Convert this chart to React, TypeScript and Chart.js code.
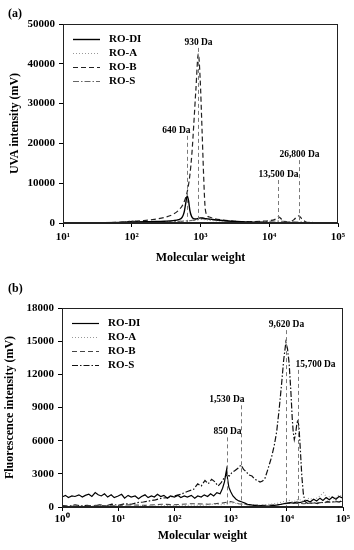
import React, { useEffect, useRef } from 'react';
import { Chart, registerables } from 'chart.js';

Chart.register(...registerables);

const FONT = "'Liberation Serif', 'Times New Roman', serif";

// ---------------- Panel (a): UVA ----------------
const uvaXTicks = [10, 100, 1000, 10000, 100000];
const uvaXTickLabels = ['10¹', '10²', '10³', '10⁴', '10⁵'];
const uvaYTicks = [0, 10000, 20000, 30000, 40000, 50000];

const uvaDiMw = [10, 20, 40, 70, 100, 150, 200, 300, 400, 480, 540, 580, 610, 640, 670, 700, 740, 790, 860, 930, 1000, 1080, 1200, 1500, 1750, 2500, 4000, 6000, 10000, 20000, 50000, 100000];
const uvaDiVal = [0, 20, 60, 150, 250, 300, 350, 450, 600, 850, 1400, 2800, 5000, 6800, 5600, 3200, 1700, 1100, 1000, 1150, 1300, 1250, 1100, 900, 750, 500, 300, 200, 100, 50, 0, 0];

const uvaAMw = [10, 50, 100, 200, 400, 700, 1000, 1300, 2000, 5000, 10000, 30000, 100000];
const uvaAVal = [0, 60, 250, 300, 400, 600, 900, 700, 450, 200, 150, 100, 0];

const uvaBMw = [10, 20, 40, 70, 100, 150, 200, 300, 400, 480, 560, 640, 700, 750, 800, 860, 930, 990, 1050, 1110, 1160, 1220, 1350, 1600, 2000, 3000, 4500, 6000, 8000, 10000, 12000, 13500, 15000, 17000, 20000, 23000, 26800, 30000, 34000, 40000, 50000, 100000];
const uvaBVal = [0, 30, 80, 200, 400, 600, 850, 1400, 2200, 3200, 4800, 7800, 12000, 17500, 25000, 34000, 42500, 36000, 24000, 12000, 4500, 2200, 1500, 1100, 800, 450, 300, 350, 450, 600, 900, 1600, 1000, 300, 250, 900, 1800, 1000, 250, 50, 0, 0];

const uvaSMw = [10, 60, 85, 100, 120, 160, 300, 600, 900, 1050, 1300, 2000, 4000, 8000, 12000, 20000, 50000, 100000];
const uvaSVal = [0, 100, 350, 550, 350, 300, 350, 500, 800, 1100, 900, 600, 350, 300, 500, 300, 100, 0];

const uvaPeakMw = [640, 930, 13500, 26800];
const uvaPeakText = ['640 Da', '930 Da', '13,500 Da', '26,800 Da'];
const uvaPeakTop = [21900, 44000, 10800, 15800];
const uvaPeakAlign = ['right', 'center', 'center', 'center'];

// ---------------- Panel (b): Fluorescence ----------------
const fluXTicks = [1, 10, 100, 1000, 10000, 100000];
const fluXTickLabels = ['10⁰', '10¹', '10²', '10³', '10⁴', '10⁵'];
const fluYTicks = [0, 3000, 6000, 9000, 12000, 15000, 18000];

const fluDiMw = [1, 1.15, 1.3, 1.5, 1.7, 2, 2.3, 2.6, 3, 3.4,
  3.9, 4.4, 5, 5.7, 6.5, 7.5, 8.5, 10, 11.5, 13,
  15, 17, 20, 23, 26, 30, 34, 39, 44, 50,
  57, 65, 75, 85, 100, 115, 130, 150, 170, 200,
  230, 260, 300, 340, 390, 440, 500, 570, 650, 720,
  780, 820, 850, 880, 930, 1000, 1100, 1250, 1400, 1600,
  1800, 2000, 2300, 2600, 3000, 3500, 4000, 5000, 6000, 7000,
  8000, 9000, 10000, 11500, 13000, 15000, 17000, 20000, 23000, 26000,
  30000, 34000, 39000, 44000, 50000, 57000, 65000, 75000, 85000, 100000];
const fluDiVal = [900, 1050, 850, 1000, 950, 1100, 900, 1050, 1150, 950,
  1300, 1100, 1000, 1200, 900, 1100, 850, 1000, 1150, 800,
  1050, 900, 1000, 750, 950, 1100, 850, 1000, 900, 1150,
  950, 1050, 800, 1000, 900, 1050, 850, 1000, 900, 1050,
  800, 1000, 900, 1100, 950, 1200, 1000, 1300, 1200, 1700,
  2300, 3000, 3400, 2600, 1800, 1400, 1000, 700, 550, 450,
  350, 250, 200, 150, 100, 120, 80, 100, 150, 200,
  250, 300, 350, 400, 350, 450, 400, 500, 600, 450,
  700, 550, 800, 600, 850, 650, 900, 700, 950, 800];

const fluAMw = [1, 2, 3, 5, 8, 12, 20, 30, 50, 80, 130, 200, 300, 500, 700, 1000, 1300, 2000, 3000, 5000, 7000, 9000, 11000, 13000, 16000, 20000, 25000, 30000, 37000, 45000, 52000, 60000, 70000, 85000, 100000];
const fluAVal = [0, 60, 20, 80, 30, 100, 50, 120, 80, 150, 100, 180, 150, 250, 200, 400, 300, 200, 150, 250, 350, 500, 600, 450, 700, 550, 800, 650, 900, 1300, 800, 1000, 700, 1100, 900];

const fluBMw = [1, 2, 4, 8, 15, 30, 60, 100, 200, 400, 700, 1000, 1400, 2000, 4000, 8000, 12000, 20000, 40000, 100000];
const fluBVal = [100, 50, 150, 100, 200, 150, 250, 200, 300, 250, 350, 500, 300, 200, 150, 250, 350, 300, 400, 500];

const fluSMw = [1, 1.3, 1.7, 2.2, 2.8, 3.6, 4.6, 6, 7.7, 10,
  13, 17, 22, 28, 36, 46, 60, 77, 100, 130,
  170, 220, 260, 300, 350, 400, 460, 520, 600, 680,
  760, 850, 950, 1050, 1200, 1350, 1530, 1700, 1900, 2100,
  2400, 2700, 3000, 3340, 3700, 4090, 4600, 5380, 6000, 6600,
  7300, 8100, 8800, 9620, 10300, 11000, 11800, 12500, 13000, 13600,
  14300, 15000, 15700, 16500, 17500, 18500, 19700, 21000, 23000, 26000,
  30000, 35000, 40000, 46000, 53000, 62000, 72000, 85000, 100000];
const fluSVal = [150, 50, 200, 100, 150, 50, 200, 100, 250, 150,
  300, 250, 400, 450, 550, 650, 800, 850, 1000, 1150,
  1400, 1600, 2100, 1900, 2400, 2100, 2500, 2300, 1900, 2200,
  2600, 2900, 2800, 3100, 3300, 3500, 3800, 3400, 3200, 2900,
  2800, 2500, 2400, 2250, 2350, 2600, 3400, 4550, 5600, 6800,
  8800, 11200, 13300, 14900, 14300, 13000, 10500, 8000, 6800, 6100,
  6600, 7400, 7900, 7200, 5000, 2800, 1200, 500, 350, 300,
  400, 300, 450, 350, 500, 400, 550, 450, 600];

const fluPeakMw = [850, 1530, 9620, 15700];
const fluPeakText = ['850 Da', '1,530 Da', '9,620 Da', '15,700 Da'];
const fluPeakTop = [6300, 9200, 16000, 12400];
const fluPeakAlign = ['center', 'right', 'center', 'left'];

const seriesNames = ['RO-DI', 'RO-A', 'RO-B', 'RO-S'];

type LineStyle = { color: string; dash: number[]; width: number };

const pts = (mw: number[], v: number[]) => mw.map((m, i) => ({ x: m, y: v[i] }));

type PanelCfg = {
  id: string;
  label: string;
  xMin: number; xMax: number; yMax: number;
  xTicks: number[]; xTickLabels: string[]; yTicks: number[];
  yTitle: string;
  padTop: number; padRight: number; yAxisW: number; xAxisH: number;
  xTickPad: number; xTitlePad: number; yTitlePad: number;
  series: { mw: number[]; val: number[] }[];
  styles: LineStyle[];
  smooth: boolean;
  peakMw: number[]; peakText: string[]; peakTop: number[]; peakAlign: string[];
};

const uvaCfg: PanelCfg = {
  id: 'a', label: '(a)',
  xMin: 10, xMax: 100000, yMax: 50000,
  xTicks: uvaXTicks, xTickLabels: uvaXTickLabels, yTicks: uvaYTicks,
  yTitle: 'UVA intensity (mV)',
  padTop: 24, padRight: 16, yAxisW: 63, xAxisH: 52,
  xTickPad: 4, xTitlePad: 10, yTitlePad: 8,
  series: [
    { mw: uvaDiMw, val: uvaDiVal },
    { mw: uvaAMw, val: uvaAVal },
    { mw: uvaBMw, val: uvaBVal },
    { mw: uvaSMw, val: uvaSVal },
  ],
  styles: [
    { color: '#000000', dash: [], width: 1.4 },
    { color: '#999999', dash: [1, 2], width: 1.1 },
    { color: '#222222', dash: [5, 3], width: 1.2 },
    { color: '#666666', dash: [6, 2, 1.5, 2], width: 1.2 },
  ],
  smooth: true,
  peakMw: uvaPeakMw, peakText: uvaPeakText, peakTop: uvaPeakTop, peakAlign: uvaPeakAlign,
};

const fluCfg: PanelCfg = {
  id: 'b', label: '(b)',
  xMin: 1, xMax: 100000, yMax: 18000,
  xTicks: fluXTicks, xTickLabels: fluXTickLabels, yTicks: fluYTicks,
  yTitle: 'Fluorescence intensity (mV)',
  padTop: 33, padRight: 11, yAxisW: 62, xAxisH: 43,
  xTickPad: 2, xTitlePad: 7, yTitlePad: 3,
  series: [
    { mw: fluDiMw, val: fluDiVal },
    { mw: fluAMw, val: fluAVal },
    { mw: fluBMw, val: fluBVal },
    { mw: fluSMw, val: fluSVal },
  ],
  styles: [
    { color: '#000000', dash: [], width: 1.2 },
    { color: '#999999', dash: [1, 2], width: 1.1 },
    { color: '#444444', dash: [5, 3], width: 1.1 },
    { color: '#111111', dash: [6, 2, 1.5, 2], width: 1.2 },
  ],
  smooth: false,
  peakMw: fluPeakMw, peakText: fluPeakText, peakTop: fluPeakTop, peakAlign: fluPeakAlign,
};

function decorPlugin(cfg: PanelCfg) {
  return {
    id: 'decor' + cfg.id,
    afterDatasetsDraw(chart: any) {
      const { ctx, chartArea, scales } = chart;
      const xs = scales.x, ys = scales.y;
      ctx.save();
      cfg.peakMw.forEach((mw, i) => {
        const px = Math.round(xs.getPixelForValue(mw)) + 0.5;
        const py = ys.getPixelForValue(cfg.peakTop[i]);
        ctx.strokeStyle = '#7a7a7a';
        ctx.lineWidth = 1;
        ctx.setLineDash([4, 3]);
        ctx.beginPath();
        ctx.moveTo(px, py);
        ctx.lineTo(px, chartArea.bottom);
        ctx.stroke();
        ctx.setLineDash([]);
        ctx.font = `bold 9.5px ${FONT}`;
        ctx.fillStyle = '#000';
        const al = cfg.peakAlign[i];
        ctx.textAlign = al;
        ctx.textBaseline = 'bottom';
        const tx = al === 'right' ? px + 3 : al === 'left' ? px - 3 : px;
        ctx.fillText(cfg.peakText[i], tx, py - 1);
      });
      ctx.restore();
    },
    afterDraw(chart: any) {
      const { ctx, chartArea } = chart;
      const { left, top, right, bottom } = chartArea;
      ctx.save();
      ctx.strokeStyle = '#222';
      ctx.lineWidth = 1;
      ctx.setLineDash([]);
      ctx.strokeRect(Math.round(left) + 0.5, Math.round(top) + 0.5, Math.round(right - left) - 1, Math.round(bottom - top) - 1);
      seriesNames.forEach((name, i) => {
        const st = cfg.styles[i];
        const y = Math.round(top + 14.5 + 14.3 * i) + 0.5;
        ctx.strokeStyle = st.color;
        ctx.lineWidth = st.width;
        ctx.setLineDash(st.dash);
        ctx.beginPath();
        ctx.moveTo(left + 10, y);
        ctx.lineTo(left + 37, y);
        ctx.stroke();
        ctx.setLineDash([]);
        ctx.font = `bold 11px ${FONT}`;
        ctx.fillStyle = '#000';
        ctx.textAlign = 'left';
        ctx.textBaseline = 'middle';
        ctx.fillText(name, left + 46, y);
      });
      ctx.font = `bold 12px ${FONT}`;
      ctx.fillStyle = '#000';
      ctx.textAlign = 'left';
      ctx.textBaseline = 'middle';
      ctx.fillText(cfg.label, 8, 14);
      ctx.restore();
    },
  };
}

function Panel({ cfg }: { cfg: PanelCfg }) {
  const ref = useRef<HTMLCanvasElement>(null);
  useEffect(() => {
    const tickFont = { family: FONT, size: 11, weight: 'bold' as const };
    const titleFont = { family: FONT, size: 12, weight: 'bold' as const };
    const chart = new Chart(ref.current as HTMLCanvasElement, {
      type: 'line',
      data: {
        datasets: cfg.series.map((s, i) => ({
          label: seriesNames[i],
          data: pts(s.mw, s.val),
          borderColor: cfg.styles[i].color,
          borderWidth: cfg.styles[i].width,
          borderDash: cfg.styles[i].dash,
          pointRadius: 0,
          fill: false,
          tension: 0,
          cubicInterpolationMode: cfg.smooth ? 'monotone' : 'default',
        })) as any,
      },
      options: {
        responsive: false,
        animation: false,
        events: [],
        layout: { padding: { top: cfg.padTop, right: cfg.padRight, left: 0, bottom: 0 } },
        plugins: { legend: { display: false }, tooltip: { enabled: false } },
        scales: {
          x: {
            type: 'logarithmic',
            min: cfg.xMin,
            max: cfg.xMax,
            afterBuildTicks: (s: any) => { s.ticks = cfg.xTicks.map((v) => ({ value: v })); },
            afterFit: (s: any) => { s.height = cfg.xAxisH; },
            ticks: {
              autoSkip: false,
              maxRotation: 0,
              padding: cfg.xTickPad,
              color: '#000',
              font: tickFont,
              callback: (_v: any, i: number) => cfg.xTickLabels[i],
            },
            grid: { drawOnChartArea: false, drawTicks: true, tickLength: 4, color: '#000' },
            border: { display: true, color: '#222', width: 1 },
            title: {
              display: true,
              text: 'Molecular weight',
              color: '#000',
              font: titleFont,
              padding: { top: 0, bottom: cfg.xTitlePad },
            },
          },
          y: {
            type: 'linear',
            min: 0,
            max: cfg.yMax,
            afterBuildTicks: (s: any) => { s.ticks = cfg.yTicks.map((v) => ({ value: v })); },
            afterFit: (s: any) => { s.width = cfg.yAxisW; },
            ticks: {
              padding: 4,
              color: '#000',
              font: tickFont,
              callback: (v: any) => String(v),
            },
            grid: { drawOnChartArea: false, drawTicks: true, tickLength: 4, color: '#000' },
            border: { display: true, color: '#222', width: 1 },
            title: {
              display: true,
              text: cfg.yTitle,
              color: '#000',
              font: titleFont,
              padding: { top: cfg.yTitlePad, bottom: 0 },
            },
          },
        },
      } as any,
      plugins: [decorPlugin(cfg) as any],
    });
    return () => chart.destroy();
  }, [cfg]);
  return <canvas ref={ref} width={354} height={275} style={{ display: 'block', width: 354, height: 275 }} />;
}

export default function App() {
  return (
    <div style={{ position: 'fixed', left: 0, top: 0, width: 354, height: 550, background: '#fff' }}>
      <Panel cfg={uvaCfg} />
      <Panel cfg={fluCfg} />
    </div>
  );
}
